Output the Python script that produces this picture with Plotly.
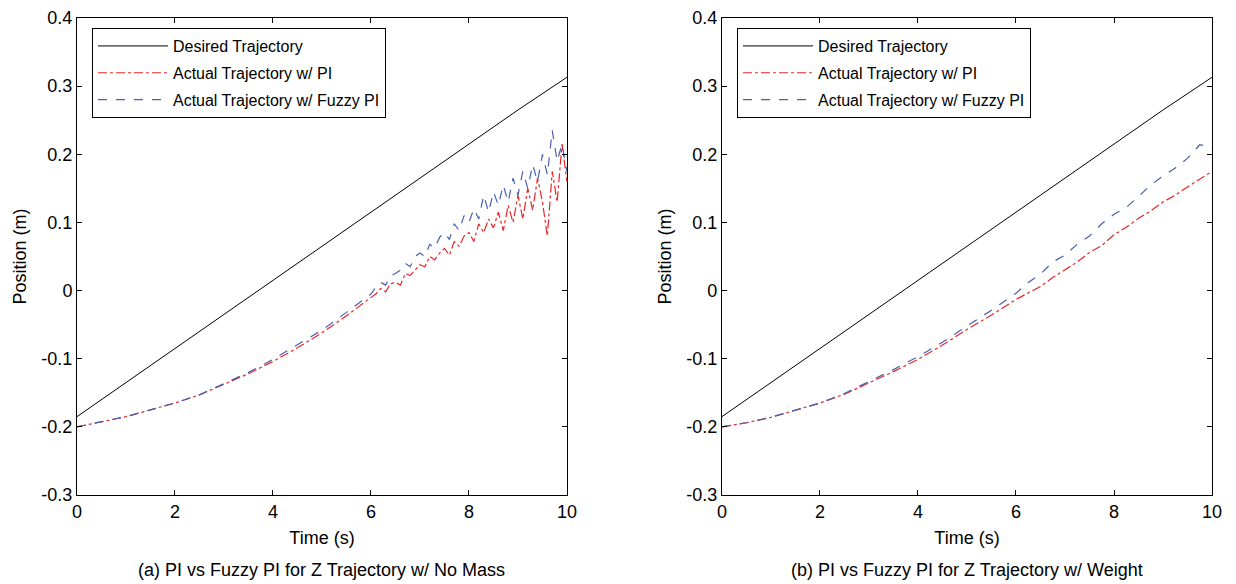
import plotly.graph_objects as go

# ---------------- data ----------------
t_des = [0, 1, 2, 3, 4, 5, 6, 7, 8, 9, 10]
z_des = [-0.185, -0.135, -0.085, -0.035, 0.015, 0.065, 0.115, 0.165, 0.215, 0.265, 0.313]

t_smooth = [0, 0.5, 1, 1.5, 2, 2.5, 3, 3.5, 4, 4.5, 5, 5.5, 6]
t_noisy = [6.1, 6.2, 6.3, 6.4, 6.5, 6.6, 6.7, 6.8, 6.9, 7.0,
           7.1, 7.2, 7.3, 7.4, 7.5, 7.6, 7.7, 7.8, 7.9, 8.0,
           8.1, 8.2, 8.3, 8.4, 8.5, 8.6, 8.7, 8.8, 8.9, 9.0,
           9.1, 9.2, 9.3, 9.4, 9.5, 9.6, 9.7, 9.8, 9.9, 10.0]

a_pi_smooth = [-0.200, -0.193, -0.185, -0.175, -0.165, -0.153, -0.138, -0.122, -0.104, -0.084, -0.062, -0.037, -0.010]
a_pi_noisy = [-0.005, 0.003, -0.002, 0.010, 0.012, 0.008, 0.025, 0.022, 0.030, 0.038,
              0.035, 0.050, 0.045, 0.055, 0.062, 0.052, 0.072, 0.065, 0.080, 0.085,
              0.072, 0.098, 0.085, 0.105, 0.092, 0.115, 0.088, 0.125, 0.100, 0.140,
              0.105, 0.150, 0.118, 0.165, 0.130, 0.080, 0.175, 0.130, 0.215, 0.160]

a_fz_smooth = [-0.200, -0.193, -0.185, -0.175, -0.165, -0.153, -0.137, -0.120, -0.101, -0.080, -0.058, -0.032, -0.005]
a_fz_noisy = [0.005, 0.012, 0.008, 0.022, 0.025, 0.030, 0.040, 0.035, 0.050, 0.055,
              0.050, 0.068, 0.062, 0.078, 0.085, 0.075, 0.098, 0.088, 0.110, 0.100,
              0.120, 0.105, 0.140, 0.115, 0.145, 0.125, 0.155, 0.130, 0.165, 0.140,
              0.175, 0.150, 0.185, 0.160, 0.200, 0.170, 0.235, 0.190, 0.215, 0.175]

t_b = [0, 0.5, 1, 1.5, 2, 2.5, 3, 3.5, 4, 4.5, 5, 5.5, 6,
       6.25, 6.5, 6.75, 7, 7.25, 7.5, 7.75, 8, 8.25, 8.5, 8.75, 9, 9.25, 9.5, 9.75, 10]
b_pi = [-0.200, -0.194, -0.186, -0.176, -0.165, -0.152, -0.136, -0.119, -0.101, -0.080, -0.057, -0.036, -0.013,
        -0.003, 0.006, 0.019, 0.030, 0.042, 0.056, 0.066, 0.082, 0.093, 0.106, 0.117, 0.130, 0.140, 0.152, 0.163, 0.175]
b_fz = [-0.200, -0.194, -0.186, -0.176, -0.165, -0.151, -0.134, -0.116, -0.097, -0.076, -0.052, -0.029, -0.004,
        0.012, 0.024, 0.042, 0.052, 0.068, 0.080, 0.098, 0.112, 0.122, 0.138, 0.155, 0.168, 0.180, 0.194, 0.214, 0.210]

names = ["Desired Trajectory", "Actual Trajectory w/ PI", "Actual Trajectory w/ Fuzzy PI"]
captions = ["(a) PI vs Fuzzy PI for Z Trajectory w/ No Mass",
            "(b) PI vs Fuzzy PI for Z Trajectory w/ Weight"]
x_ticks = [0, 2, 4, 6, 8, 10]
y_ticks = [-0.3, -0.2, -0.1, 0, 0.1, 0.2, 0.3, 0.4]
y_labels = ["-0.3", "-0.2", "-0.1", "0", "0.1", "0.2", "0.3", "0.4"]

# ---------------- figure ----------------
FONT = "Liberation Sans, Arial, sans-serif"
fig = go.Figure()

panels = [
    ("x", "y", "legend", "a", a_pi_smooth + a_pi_noisy, a_fz_smooth + a_fz_noisy, t_smooth + t_noisy),
    ("x2", "y2", "legend2", "b", b_pi, b_fz, t_b),
]
for xa, ya, lg, tag, pi, fz, tt in panels:
    fig.add_trace(go.Scatter(x=t_des, y=z_des, mode="lines", name=names[0],
                             line=dict(color="black", width=1), xaxis=xa, yaxis=ya,
                             legend=lg, legendgroup=tag + "0"))
    fig.add_trace(go.Scatter(x=tt, y=pi, mode="lines", name=names[1],
                             line=dict(color="#e8262a", width=1.2, dash="dashdot"),
                             xaxis=xa, yaxis=ya, legend=lg, legendgroup=tag + "1"))
    fig.add_trace(go.Scatter(x=tt, y=fz, mode="lines", name=names[2],
                             line=dict(color="#4a5fb0", width=1.2, dash="dash"),
                             xaxis=xa, yaxis=ya, legend=lg, legendgroup=tag + "2"))

axis_common = dict(showline=True, linecolor="black", linewidth=1, mirror="ticks",
                   ticks="inside", ticklen=5, tickcolor="black", showgrid=False,
                   zeroline=False, automargin=False,
                   tickfont=dict(size=18, color="black", family=FONT))
xaxis = dict(axis_common, range=[0, 10], tickvals=x_ticks,
             title=dict(text="Time (s)", font=dict(size=18, color="black", family=FONT), standoff=10))
yaxis = dict(axis_common, range=[-0.3, 0.4], tickvals=y_ticks, ticktext=y_labels,
             title=dict(text="Position (m)", font=dict(size=18, color="black", family=FONT), standoff=10))

legend_common = dict(bgcolor="white", bordercolor="black", borderwidth=1,
                     font=dict(size=16, color="black", family=FONT),
                     xanchor="left", yanchor="top", tracegroupgap=3, itemwidth=70)

fig.update_layout(
    width=1236, height=584,
    margin=dict(l=0, r=0, t=0, b=0, autoexpand=False),
    paper_bgcolor="white", plot_bgcolor="white",
    font=dict(family=FONT, color="black"),
    xaxis=dict(xaxis, domain=[0.0623, 0.4587], anchor="y"),
    yaxis=dict(yaxis, domain=[0.1524, 0.9692], anchor="x"),
    xaxis2=dict(xaxis, domain=[0.5841, 0.9806], anchor="y2"),
    yaxis2=dict(yaxis, domain=[0.1524, 0.9692], anchor="x2"),
    legend=dict(legend_common, x=0.0744, y=0.952),
    legend2=dict(legend_common, x=0.5963, y=0.952),
    annotations=[
        dict(text=captions[0], x=0.2605, y=0.024, xref="paper", yref="paper",
             xanchor="center", yanchor="middle",
             showarrow=False, font=dict(size=18, color="black", family=FONT)),
        dict(text=captions[1], x=0.7823, y=0.024, xref="paper", yref="paper",
             xanchor="center", yanchor="middle",
             showarrow=False, font=dict(size=18, color="black", family=FONT)),
    ],
)

fig.write_html("out.html")
